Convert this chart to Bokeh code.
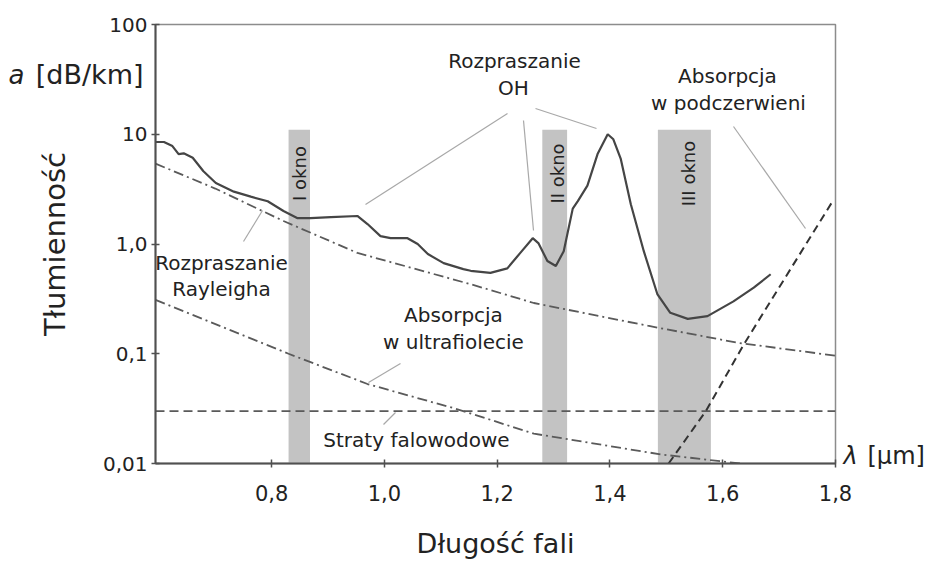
import math
from bokeh.plotting import figure
from bokeh.models import Label, FixedTicker, LogAxis
from bokeh.embed import file_html
from bokeh.resources import INLINE

# ---------------- data ----------------
loss_wl = [0.594, 0.609, 0.624, 0.635, 0.644, 0.660, 0.679, 0.701, 0.733, 0.763,
           0.793, 0.821, 0.846, 0.869, 0.905, 0.952, 0.970, 0.993, 1.011, 1.041,
           1.059, 1.077, 1.105, 1.140, 1.153, 1.188, 1.218, 1.241, 1.263, 1.273,
           1.289, 1.304, 1.318, 1.334, 1.343, 1.360, 1.378, 1.396, 1.406, 1.419,
           1.437, 1.460, 1.484, 1.507, 1.538, 1.573, 1.619, 1.655, 1.685]
loss_db = [8.5, 8.5, 7.8, 6.6, 6.7, 6.1, 4.6, 3.6, 3.0, 2.7,
           2.45, 2.0, 1.72, 1.72, 1.76, 1.8, 1.52, 1.18, 1.13, 1.13,
           1.0, 0.81, 0.67, 0.59, 0.57, 0.545, 0.6, 0.83, 1.13, 1.02,
           0.70, 0.63, 0.86, 2.1, 2.46, 3.4, 6.6, 10.0, 9.0, 6.0,
           2.3, 0.86, 0.35, 0.236, 0.208, 0.22, 0.30, 0.40, 0.53]

ray_wl = [0.594, 0.70, 0.821, 0.952, 1.153, 1.265, 1.467, 1.626, 1.8]
ray_db = [5.4, 3.2, 1.62, 0.83, 0.43, 0.29, 0.18, 0.126, 0.096]

uv_wl = [0.594, 0.83, 0.97, 1.126, 1.265, 1.49, 1.632]
uv_db = [0.31, 0.1, 0.053, 0.0316, 0.0187, 0.0121, 0.01]

wg_wl = [0.594, 1.8]
wg_db = [0.03, 0.03]

ir_wl = [1.504, 1.57, 1.638, 1.795]
ir_db = [0.01, 0.03, 0.123, 2.46]

band_names = ["I okno", "II okno", "III okno"]
band_left = [0.83, 1.28, 1.485]
band_right = [0.868, 1.324, 1.579]
band_top = [11, 11, 11]

x_ticks = [0.8, 1.0, 1.2, 1.4, 1.6, 1.8]
x_tick_labels = ["0,8", "1,0", "1,2", "1,4", "1,6", "1,8"]
y_ticks = [0.01, 0.1, 1, 10, 100]
y_tick_labels = ["0,01", "0,1", "1,0", "10", "100"]

x_title = "Długość fali"
y_title = "Tłumienność"
y_unit_sym, y_unit = "a", "[dB/km]"
x_unit_sym, x_unit = "λ", "[μm]"
y_unit_at = 35.0       # height of the y unit text, in dB/km
x_unit_at = 0.0118     # height of the x unit text, in dB/km

X0, X1 = 0.594, 1.8
Y0, Y1 = 0.01, 100

W, H = 931, 565
FL, FR, FT, FB = 155, 835, 24, 463   # frame edges in page pixels


def at(px, py):
    x = X0 + (px - FL) / (FR - FL) * (X1 - X0)
    y = 10 ** (math.log10(Y0) + (FB - py) / (FB - FT) * (math.log10(Y1) - math.log10(Y0)))
    return x, y


FONT = "DejaVu Sans"
TXT = "#222222"

p = figure(width=W, height=H, x_range=(X0, X1), y_range=(Y0, Y1),
           y_axis_type="log", output_backend="svg", toolbar_location=None,
           min_border_left=FL, min_border_right=W - FR,
           min_border_top=FT, min_border_bottom=H - FB)
p.background_fill_color = "white"
p.border_fill_color = "white"
p.grid.visible = False
p.outline_line_color = "#8c8c8c"
p.outline_line_width = 1.5

for ax in (p.xaxis[0], p.yaxis[0]):
    ax.axis_line_color = "#505050"
    ax.axis_line_width = 2
    ax.major_tick_line_color = "#505050"
    ax.major_tick_line_width = 1.5
    ax.major_tick_in = 4
    ax.major_tick_out = 4
    ax.minor_tick_line_color = None
    ax.major_label_text_font = FONT
    ax.major_label_text_color = TXT
    ax.axis_label_text_font = FONT
    ax.axis_label_text_color = TXT
    ax.axis_label_text_font_style = "normal"

p.xaxis.ticker = FixedTicker(ticks=x_ticks)
p.xaxis.major_label_overrides = dict(zip(x_ticks, x_tick_labels))
p.xaxis.major_label_text_font_size = "21px"
p.xaxis.major_label_standoff = 17
p.xaxis.axis_label = x_title
p.xaxis.axis_label_text_font_size = "27px"
p.xaxis.axis_label_standoff = 24

p.yaxis.ticker = FixedTicker(ticks=y_ticks)
p.yaxis.major_label_overrides = dict(zip(y_ticks, y_tick_labels))
p.yaxis.major_label_text_font_size = "20px"
p.yaxis.major_label_standoff = 4
p.yaxis.axis_label = y_title
p.yaxis.axis_label_text_font_size = "29px"
p.yaxis.axis_label_standoff = 28


def text_axis(side, tick, text, size, standoff, style="normal"):
    ax = LogAxis(ticker=FixedTicker(ticks=[tick]), major_label_overrides={tick: text},
                 axis_line_color=None, major_tick_line_color=None, minor_tick_line_color=None,
                 major_tick_in=0, major_tick_out=0, major_label_standoff=standoff,
                 major_label_text_font=FONT, major_label_text_font_size=f"{size}px",
                 major_label_text_font_style=style, major_label_text_color=TXT)
    p.add_layout(ax, side)


text_axis("left", y_unit_at, y_unit, 27, -109)
text_axis("left", y_unit_at, y_unit_sym, 26, 8, style="italic")
text_axis("right", x_unit_at, x_unit_sym, 24, 8, style="italic")
text_axis("right", x_unit_at, x_unit, 24, 7)

p.quad(left=band_left, right=band_right, bottom=[Y0] * len(band_left), top=band_top,
       fill_color="#c3c3c3", line_color=None)

p.line(wg_wl, wg_db, line_color="#5a5a5a", line_width=1.6, line_dash="9 5")
p.line(ray_wl, ray_db, line_color="#5a5a5a", line_width=1.8, line_dash="10 4 2 4")
p.line(uv_wl, uv_db, line_color="#5a5a5a", line_width=1.8, line_dash="10 4 2 4")
p.line(ir_wl, ir_db, line_color="#333333", line_width=2, line_dash="8 5")
p.line(loss_wl, loss_db, line_color="#454545", line_width=2.2)

leaders = [((243, 241), (262, 210)),
           ((365, 204), (507, 113)),
           ((523, 120), (533, 230)),
           ((535, 108), (596, 128)),
           ((733, 126), (805, 228)),
           ((400, 363), (368, 382)),
           ((395, 412), (383, 424))]
for (a, b) in leaders:
    x0, y0 = at(*a)
    x1, y1 = at(*b)
    p.segment(x0=[x0], y0=[y0], x1=[x1], y1=[y1], line_color="#a8a8a8", line_width=1.2)


def lab(text, px, py, size=20, angle=0.0, align="center", baseline="middle", style="normal"):
    x, y = at(px, py)
    p.add_layout(Label(x=x, y=y, text=text, text_font=FONT, text_font_size=f"{size}px",
                       text_align=align, text_baseline=baseline, angle=angle,
                       text_color=TXT, text_font_style=style))


for name, cx in zip(band_names, (299, 557, 688)):
    lab(name, cx, 173, size=18, angle=math.pi / 2)

lab("Rozpraszanie", 221, 262)
lab("Rayleigha", 221, 288)
lab("Rozpraszanie", 514, 60)
lab("OH", 513, 87)
lab("Absorpcja", 727, 75)
lab("w podczerwieni", 728, 102)
lab("Absorpcja", 453, 314)
lab("w ultrafiolecie", 453, 341)
lab("Straty falowodowe", 416, 439)

open("out.html", "w").write(file_html(p, INLINE))
